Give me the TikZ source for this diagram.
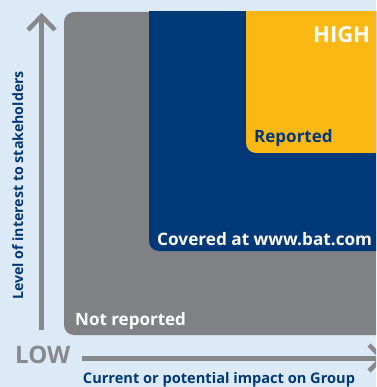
\documentclass[tikz,border=0pt]{standalone}
\usepackage{fontspec}
\setmainfont{Open Sans}
\definecolor{bgblue}{HTML}{DCEAF7}
\definecolor{boxgray}{HTML}{808184}
\definecolor{navy}{HTML}{003878}
\definecolor{gold}{HTML}{FBB714}
\definecolor{axisgray}{HTML}{88898B}
\tikzset{
  lbl/.style={inner sep=0pt, font=\bfseries},
  axisline/.style={draw=axisgray, line width=5pt},
  chevron/.style={draw=axisgray, line width=4.5pt, miter limit=10},
}
\begin{document}
\begin{tikzpicture}[x=1pt,y=-1pt]
\useasboundingbox (0,0) rectangle (376,387);
\clip (0,0) rectangle (376,387);
\fill[bgblue] (0,0) rectangle (376,387);
\begin{scope}
  \clip (0,12) rectangle (376,400);
  \fill[boxgray, rounded corners=10pt] (64,12) rectangle (400,335);
  \fill[navy, rounded corners=10pt] (149,-20) rectangle (400,251);
  \fill[gold, rounded corners=10pt] (246,-20) rectangle (400,153);
\end{scope}
% axes
\coordinate (ybot) at (41.5,330);
\coordinate (ytop) at (41.5,18);
\coordinate (yl) at (28,30);
\coordinate (yt) at (41.5,16);
\coordinate (yr) at (55,30);
\draw[axisline] (ybot) -- (ytop);
\draw[chevron] (yl) -- (yt) -- (yr);
\coordinate (xl) at (82,358);
\coordinate (xr) at (378,358);
\coordinate (xa) at (369,345);
\coordinate (xt) at (382,358);
\coordinate (xb) at (369,371);
\draw[axisline] (xl) -- (xr);
\draw[chevron] (xa) -- (xt) -- (xb);
% texts
\node[lbl, anchor=base west, text=white, font=\bfseries\fontsize{22}{22}\selectfont] (high) at (313,43) {HIGH};
\node[lbl, anchor=base west, text=navy, font=\bfseries\fontsize{17}{17}\selectfont] (rep) at (254,143) {Reported};
\node[lbl, anchor=base west, text=white, font=\bfseries\fontsize{17.2}{17.2}\selectfont] (cov) at (157,245) {Covered at www.bat.com};
\node[lbl, anchor=base west, text=white, font=\bfseries\fontsize{17}{17}\selectfont] (notrep) at (75,325) {Not reported};
\node[lbl, anchor=base west, text=axisgray, font=\bfseries\fontsize{24}{24}\selectfont] (low) at (15,363) {LOW};
\node[lbl, anchor=base, text=navy, font=\bfseries\fontsize{14.6}{14.6}\selectfont] (xlab) at (219,383) {Current or potential impact on Group};
\node[lbl, anchor=base, rotate=90, text=navy, font=\bfseries\fontsize{14.2}{14.2}\selectfont] (ylab) at (23,185.5) {Level of interest to stakeholders};
\end{tikzpicture}
\end{document}
